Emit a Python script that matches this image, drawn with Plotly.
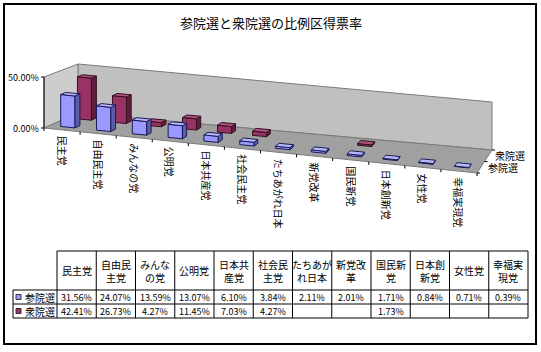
import plotly.graph_objects as go

# ---------------- data ----------------
title = "参院選と衆院選の比例区得票率"
parties = ["民主党", "自由民主党", "みんなの党", "公明党", "日本共産党", "社会民主党",
           "たちあがれ日本", "新党改革", "国民新党", "日本創新党", "女性党", "幸福実現党"]
header_labels = ["民主党", "自由民<br>主党", "みんな<br>の党", "公明党", "日本共<br>産党", "社会民<br>主党",
                 "たちあが<br>れ日本", "新党改<br>革", "国民新<br>党", "日本創<br>新党", "女性党", "幸福実<br>現党"]
series_names = ["参院選", "衆院選"]
sanin = [31.56, 24.07, 13.59, 13.07, 6.10, 3.84, 2.11, 2.01, 1.71, 0.84, 0.71, 0.39]
shugin = [42.41, 26.73, 4.27, 11.45, 7.03, 4.27, None, None, 1.73, None, None, None]
y_ticks = [0, 50]
y_tick_labels = ["0.00%", "50.00%"]

# ---------------- styling ----------------
FONT = "Noto Sans CJK JP"
W, H = 541, 352
face_colors = {
    "参院選": dict(front="#9999FF", side="#5C5CA8", top="#B8B8FF", line="#1A1A55"),
    "衆院選": dict(front="#993366", side="#5E1F3E", top="#B0507E", line="#33101F"),
}
WALL = "#C0C0C0"
SIDEWALL = "#CDCDCD"
FLOOR = "#A0A0A0"
EDGE = "#7A7A7A"

# 3D frame (pixel space of the chart area)
FL, FR, BL, BR = (44, 128), (477, 173), (78, 113), (492, 150)
SC = {"FL": 1.02, "FR": 0.97, "BL": 0.98, "BR": 0.96}  # px per 1%
NCAT = len(parties)


def floor_pt(u, d):
    x = (1 - u) * (1 - d) * FL[0] + u * (1 - d) * FR[0] + (1 - u) * d * BL[0] + u * d * BR[0]
    y = (1 - u) * (1 - d) * FL[1] + u * (1 - d) * FR[1] + (1 - u) * d * BL[1] + u * d * BR[1]
    return x, y


def scale(u, d):
    return ((1 - u) * (1 - d) * SC["FL"] + u * (1 - d) * SC["FR"]
            + (1 - u) * d * SC["BL"] + u * d * SC["BR"])


def P(u, d, z):
    x, y = floor_pt(u, d)
    return x, y - z * scale(u, d)


def poly(pts, xs, ys):
    for p in pts + [pts[0]]:
        xs.append(p[0]); ys.append(p[1])
    xs.append(None); ys.append(None)


fig = go.Figure()


def add_poly_trace(xs, ys, fill, line, width=1):
    fig.add_trace(go.Scatter(x=xs, y=ys, mode="lines", fill="toself", fillcolor=fill,
                             line=dict(color=line, width=width), hoverinfo="skip",
                             showlegend=False))


# walls & floor
zmax = y_ticks[-1]
xs, ys = [], []
poly([P(0, 1, 0), P(1, 1, 0), P(1, 1, zmax), P(0, 1, zmax)], xs, ys)
add_poly_trace(xs, ys, WALL, EDGE)
xs, ys = [], []
poly([P(0, 0, 0), P(0, 1, 0), P(0, 1, zmax), P(0, 0, zmax)], xs, ys)
add_poly_trace(xs, ys, SIDEWALL, EDGE)
xs, ys = [], []
poly([P(0, 0, 0), P(1, 0, 0), P(1, 1, 0), P(0, 1, 0)], xs, ys)
add_poly_trace(xs, ys, FLOOR, EDGE)

# bars: back row first
rows = [(1, "衆院選", shugin), (0, "参院選", sanin)]
for j, name, vals in rows:
    c = face_colors[name]
    fx, fy, sx, sy, tx, ty = [], [], [], [], [], []
    d0 = j / 2 + 0.175
    d1 = j / 2 + 0.325
    for i, v in enumerate(vals):
        if v is None:
            continue
        u0 = (i + 0.3) / NCAT
        u1 = (i + 0.7) / NCAT
        poly([P(u0, d0, 0), P(u1, d0, 0), P(u1, d0, v), P(u0, d0, v)], fx, fy)
        poly([P(u1, d0, 0), P(u1, d1, 0), P(u1, d1, v), P(u1, d0, v)], sx, sy)
        poly([P(u0, d0, v), P(u1, d0, v), P(u1, d1, v), P(u0, d1, v)], tx, ty)
    add_poly_trace(fx, fy, c["front"], c["line"])
    add_poly_trace(sx, sy, c["side"], c["line"])
    add_poly_trace(tx, ty, c["top"], c["line"])

shapes = []
annotations = []


def line(x0, y0, x1, y1, color="black", width=1):
    shapes.append(dict(type="line", xref="x", yref="y", x0=x0, y0=y0, x1=x1, y1=y1,
                       line=dict(color=color, width=width)))


# value axis
p0 = P(0, 0, y_ticks[0]); p1 = P(0, 0, y_ticks[-1])
line(p0[0], p0[1], p1[0], p1[1], "black")
for t, lab in zip(y_ticks, y_tick_labels):
    px, py = P(0, 0, t)
    line(px - 3, py, px, py, "black")
    annotations.append(dict(x=px - 3, y=py, xref="x", yref="y", text=lab, showarrow=False,
                            xanchor="right", yanchor="middle",
                            font=dict(family=FONT, size=9, color="black")))

# category axis ticks & labels
for k in range(NCAT + 1):
    px, py = P(k / NCAT, 0, 0)
    line(px, py, px, py + 3, "black")
for i, name in enumerate(parties):
    px, py = P((i + 0.5) / NCAT, 0, 0)
    annotations.append(dict(x=px, y=py + 4, xref="x", yref="y", text=name, showarrow=False,
                            textangle=90, xanchor="center", yanchor="top",
                            font=dict(family=FONT, size=10, color="black")))

# series (depth) axis
for k in range(3):
    px, py = P(1, k / 2, 0)
    line(px, py, px + 3, py, "black")
for j, name in enumerate(series_names):
    px, py = P(1, (j + 0.5) / 2, 0)
    annotations.append(dict(x=px + 5, y=py, xref="x", yref="y", text=name, showarrow=False,
                            xanchor="left", yanchor="middle",
                            font=dict(family=FONT, size=10, color="black")))

# title
annotations.append(dict(x=W / 2, y=22, xref="x", yref="y", text=title, showarrow=False,
                        xanchor="center", yanchor="middle",
                        font=dict(family=FONT, size=13, color="black")))

# data table
TL, T0 = 57, 251
COLW = (528 - TL) / NCAT
ROWS_Y = [251, 290, 304, 318]
LABX = 13
line(TL, ROWS_Y[0], TL + COLW * NCAT, ROWS_Y[0])
for y in ROWS_Y[1:]:
    line(LABX, y, TL + COLW * NCAT, y)
line(LABX, ROWS_Y[1], LABX, ROWS_Y[3])
for k in range(NCAT + 1):
    x = TL + k * COLW
    line(x, ROWS_Y[0], x, ROWS_Y[3])
for i, h in enumerate(header_labels):
    annotations.append(dict(x=TL + (i + 0.5) * COLW, y=(ROWS_Y[0] + ROWS_Y[1]) / 2, xref="x", yref="y",
                            text=h, showarrow=False, xanchor="center", yanchor="middle",
                            font=dict(family=FONT, size=10, color="black")))
for r, (name, vals) in enumerate([("参院選", sanin), ("衆院選", shugin)]):
    yc = (ROWS_Y[r + 1] + ROWS_Y[r + 2]) / 2
    c = face_colors[name]
    shapes.append(dict(type="rect", xref="x", yref="y", x0=16, x1=21, y0=yc - 2.5, y1=yc + 2.5,
                       fillcolor=c["front"], line=dict(color="#333333", width=1)))
    annotations.append(dict(x=23, y=yc, xref="x", yref="y", text=name, showarrow=False,
                            xanchor="left", yanchor="middle",
                            font=dict(family=FONT, size=10, color="black")))
    for i, v in enumerate(vals):
        if v is None:
            continue
        annotations.append(dict(x=TL + (i + 0.5) * COLW, y=yc, xref="x", yref="y",
                                text=f"{v:.2f}%", showarrow=False, xanchor="center", yanchor="middle",
                                font=dict(family=FONT, size=9, color="black")))

# outer border
shapes.append(dict(type="rect", xref="x", yref="y", x0=4, y0=4, x1=536, y1=344,
                   line=dict(color="black", width=2), fillcolor="rgba(0,0,0,0)"))

fig.update_layout(
    width=W, height=H, autosize=False,
    margin=dict(l=0, r=0, t=0, b=0, pad=0),
    paper_bgcolor="white", plot_bgcolor="white",
    xaxis=dict(range=[0, W], visible=False, fixedrange=True),
    yaxis=dict(range=[H, 0], visible=False, fixedrange=True),
    shapes=shapes, annotations=annotations, showlegend=False,
)
fig.write_html("out.html")
